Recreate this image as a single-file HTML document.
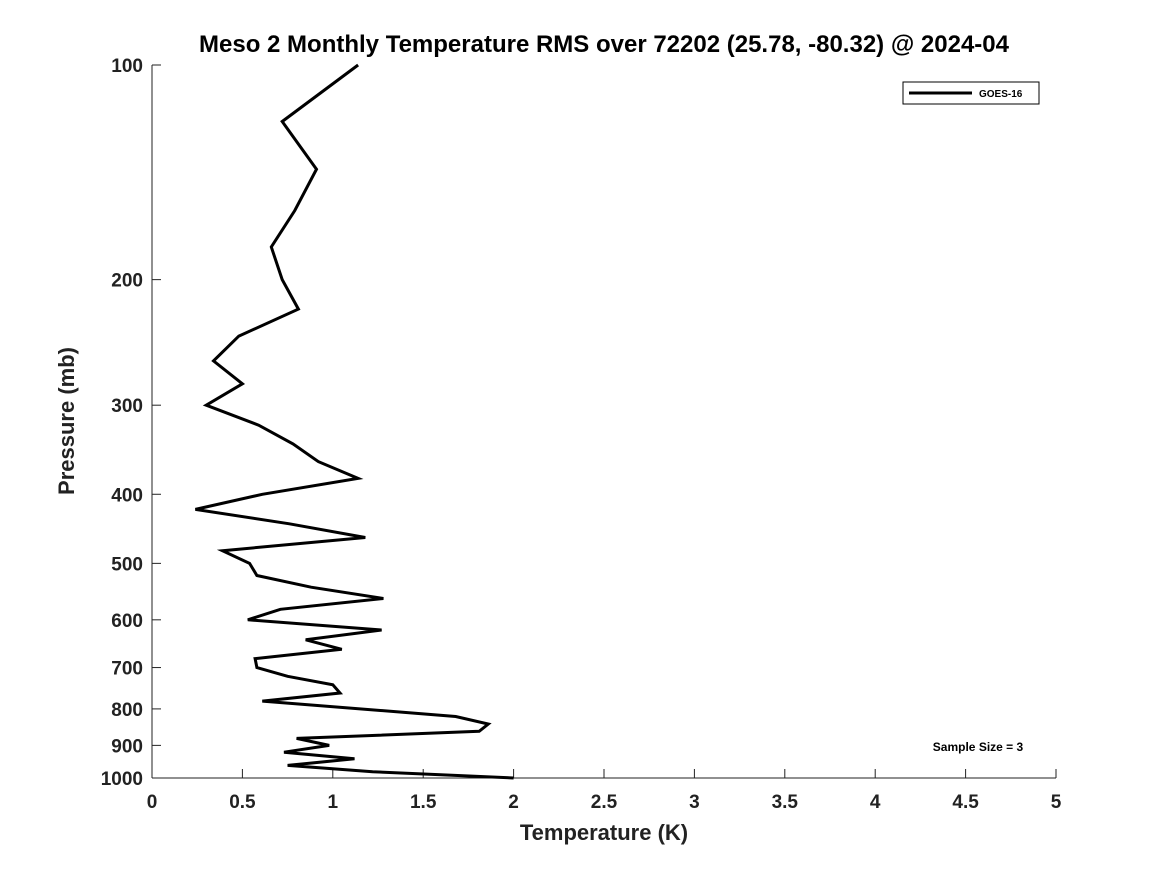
<!DOCTYPE html>
<html><head><meta charset="utf-8"><style>
body{margin:0;background:#fff;}
svg{display:block;font-family:"Liberation Sans","DejaVu Sans",sans-serif;}
</style></head><body>
<svg id="chart" width="1167" height="875">
<text x="604" y="52" text-anchor="middle" font-size="24" font-weight="bold" fill="#000">Meso 2 Monthly Temperature RMS over 72202 (25.78, -80.32) @ 2024-04</text>
<g id="axes"></g>
<path id="line" fill="none" stroke="#000" stroke-width="3" stroke-linejoin="miter"></path>
<g>
<rect x="903" y="82" width="136" height="22" fill="#fff" stroke="#000" stroke-width="1"></rect>
<line x1="909" y1="93" x2="972" y2="93" stroke="#000" stroke-width="3"></line>
<text x="979" y="97" font-size="10" font-weight="bold">GOES-16</text>
</g>
<text x="978" y="751" text-anchor="middle" font-size="12" font-weight="bold">Sample Size = 3</text>
<text x="604" y="840" text-anchor="middle" font-size="22" font-weight="bold" fill="#222">Temperature (K)</text>
<text x="0" y="0" transform="translate(74,421) rotate(-90)" text-anchor="middle" font-size="22" font-weight="bold" fill="#222">Pressure (mb)</text>
</svg>
<script>
const pressures=[100,120,140,160,180,200,220,240,260,280,300,320,340,360,380,400,420,440,460,480,500,520,540,560,580,600,620,640,660,680,700,720,740,760,780,820,840,860,880,900,920,940,960,980,1000];
const rmsValues=[1.14,0.72,0.91,0.79,0.66,0.72,0.81,0.48,0.34,0.50,0.30,0.59,0.78,0.92,1.14,0.61,0.24,0.76,1.18,0.39,0.54,0.58,0.88,1.28,0.71,0.53,1.27,0.85,1.05,0.57,0.58,0.75,1.00,1.04,0.61,1.68,1.86,1.81,0.80,0.98,0.73,1.12,0.75,1.22,2.00];
const xTicks=[0,0.5,1,1.5,2,2.5,3,3.5,4,4.5,5];
const yTicks=[100,200,300,400,500,600,700,800,900,1000];
const X0=152,X1=1056,Y0=65,Y1=778;
function xs(v){return X0+(v-0)/(5-0)*(X1-X0);}
function ys(p){return Y0+(Math.log10(p)-2)*(Y1-Y0);}
const NS="http://www.w3.org/2000/svg";
const ax=document.getElementById('axes');
function mk(t,a){const e=document.createElementNS(NS,t);for(const k in a)e.setAttribute(k,a[k]);return e;}
let l=mk('line',{x1:X0,y1:Y0,x2:X0,y2:Y1,stroke:'#222','stroke-width':1});


ax.appendChild(l);
l=mk('line',{x1:X0,y1:Y1,x2:X1,y2:Y1,stroke:'#222','stroke-width':1});


ax.appendChild(l);
xTicks.forEach(v=>{const x=xs(v);
 const t=mk('line',{x1:x,y1:Y1,x2:x,y2:Y1-9,stroke:'#222','stroke-width':1});
 
 
 ax.appendChild(t);
 const tx=mk('text',{x:x,y:808,'text-anchor':'middle','font-size':19,'font-weight':'bold',fill:'#222'});
 tx.textContent=String(v);
 
 
 ax.appendChild(tx);});
yTicks.forEach(p=>{const y=ys(p);
 const t=mk('line',{x1:X0,y1:y,x2:X0+9,y2:y,stroke:'#222','stroke-width':1});
 
 
 ax.appendChild(t);
 const tx=mk('text',{x:143,y:y+7,'text-anchor':'end','font-size':19,'font-weight':'bold',fill:'#222'});
 tx.textContent=String(p);
 
 
 ax.appendChild(tx);});
document.getElementById('line').setAttribute('d',pressures.map((p,i)=>(i?'L':'M')+xs(rmsValues[i]).toFixed(1)+','+ys(p).toFixed(1)).join(' '));
</script>
</body></html>
